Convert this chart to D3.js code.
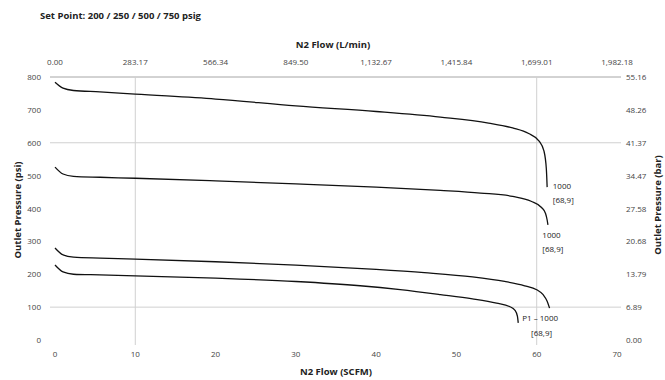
<!DOCTYPE html>
<html><head><meta charset="utf-8">
<script src="https://cdn.jsdelivr.net/npm/d3@7"></script>
<style>body{margin:0;background:#fff}svg{display:block}text{font-family:"Open Sans","Liberation Sans",sans-serif}</style>
</head><body><svg id="c" width="665" height="380"></svg>
<script>
const title = "Set Point: 200 / 250 / 500 / 750 psig";
const xTicks = [0,10,20,30,40,50,60,70];
const topTickLabels = ["0.00","283.17","566.34","849.50","1,132.67","1,415.84","1,699.01","1,982.18"];
const yTicks = [0,100,200,300,400,500,600,700,800];
const rightTickLabels = ["0.00","6.89","13.79","20.68","27.58","34.47","41.37","48.26","55.16"];
const gridY = [800,600,100];
const gridX = [10,60];
// curves: [SCFM, psi]
const curve750 = [[0,784],[1,766],[2.3,759],[5.6,755],[10,748],[20,733],[30,712],[40,695],[48,678],[54,660],[57,645],[59,628],[60.3,605],[60.9,575],[61.2,520],[61.3,465]];
const curve500 = [[0,526],[1,505],[2.3,498],[5.6,495],[10,492],[20,484],[30,475],[40,465],[48,455],[53,447],[57,437],[59.3,422],[60.6,403],[61.1,385],[61.3,365],[61.4,350]];
const curve250 = [[0,280],[1,259],[2.3,252],[5.6,249],[10,246],[20,238],[30,228],[40,215],[46,205],[52,192],[56,178],[58.5,165],[60,153],[60.8,138],[61.3,118],[61.6,97]];
const curve200 = [[0,228],[1,207],[2.3,200],[5.6,198],[10,195],[20,188],[30,178],[38,165],[43,153],[48,138],[52,125],[55,112],[56.6,102],[57.3,90],[57.6,72],[57.7,52]];
const series = [curve750, curve500, curve250, curve200];
const annotations = [
  {x:62.0, y:460, lines:["1000","[68,9]"]},
  {x:60.7, y:310, lines:["1000","[68,9]"]},
  {x:58.2, y:58, lines:["P1 \u2013 1000"]},
  {x:59.3, y:12, lines:["[68,9]"]}
];

const svg = d3.select("#c");
const x = d3.scaleLinear().domain([0,70]).range([55,617]);
const y = d3.scaleLinear().domain([0,800]).range([340,77]);

// gridlines
svg.selectAll("line.gy").data(gridY).join("line")
  .attr("x1",50).attr("x2",621).attr("y1",d=>y(d)).attr("y2",d=>y(d))
  .attr("stroke",d=>d===800?"#a6a6a6":"#d0d0d0").attr("stroke-width",1);
svg.selectAll("line.gx").data(gridX).join("line")
  .attr("x1",d=>x(d)).attr("x2",d=>x(d)).attr("y1",y(800)).attr("y2",345)
  .attr("stroke","#d0d0d0").attr("stroke-width",1);

const tickFont = 8, tickCol = "#444";
svg.append("g").selectAll("text").data(xTicks).join("text")
  .attr("x",d=>x(d)).attr("y",357).attr("text-anchor","middle")
  .attr("font-size",tickFont).attr("fill",tickCol).text(d=>d);
svg.append("g").selectAll("text").data(xTicks).join("text")
  .attr("x",d=>x(d)).attr("y",65).attr("text-anchor","middle")
  .attr("font-size",tickFont).attr("fill",tickCol).text((d,i)=>topTickLabels[i]);
svg.append("g").selectAll("text").data(yTicks).join("text")
  .attr("x",41).attr("y",d=>y(d)+3).attr("text-anchor","end")
  .attr("font-size",tickFont).attr("fill",tickCol).text(d=>d);
svg.append("g").selectAll("text").data(yTicks).join("text")
  .attr("x",626).attr("y",d=>y(d)+3).attr("text-anchor","start")
  .attr("font-size",tickFont).attr("fill",tickCol).text((d,i)=>rightTickLabels[i]);

svg.append("text").attr("x",40).attr("y",19).attr("font-size",9.5).attr("font-weight","bold").attr("fill","#222").text(title);
svg.append("text").attr("x",333).attr("y",48).attr("text-anchor","middle").attr("font-size",9.5).attr("font-weight","bold").attr("fill","#222").text("N2 Flow (L/min)");
svg.append("text").attr("x",336).attr("y",375).attr("text-anchor","middle").attr("font-size",9.5).attr("font-weight","bold").attr("fill","#222").text("N2 Flow (SCFM)");
svg.append("text").attr("transform","translate(21,210) rotate(-90)").attr("text-anchor","middle").attr("font-size",9.5).attr("font-weight","bold").attr("fill","#222").text("Outlet Pressure (psi)");
svg.append("text").attr("transform","translate(661,205) rotate(-90)").attr("text-anchor","middle").attr("font-size",9.5).attr("font-weight","bold").attr("fill","#222").text("Outlet Pressure (bar)");

const line = d3.line().x(d=>x(d[0])).y(d=>y(d[1])).curve(d3.curveMonotoneX);
svg.append("g").selectAll("path").data(series).join("path")
  .attr("d",line).attr("fill","none").attr("stroke","#111").attr("stroke-width",1.3);

const ag = svg.append("g");
annotations.forEach(a=>{
  a.lines.forEach((t,i)=>{
    ag.append("text").attr("x",x(a.x)).attr("y",y(a.y)+i*14).attr("font-size",8)
      .attr("fill","#222").text(t);
  });
});
</script></body></html>
